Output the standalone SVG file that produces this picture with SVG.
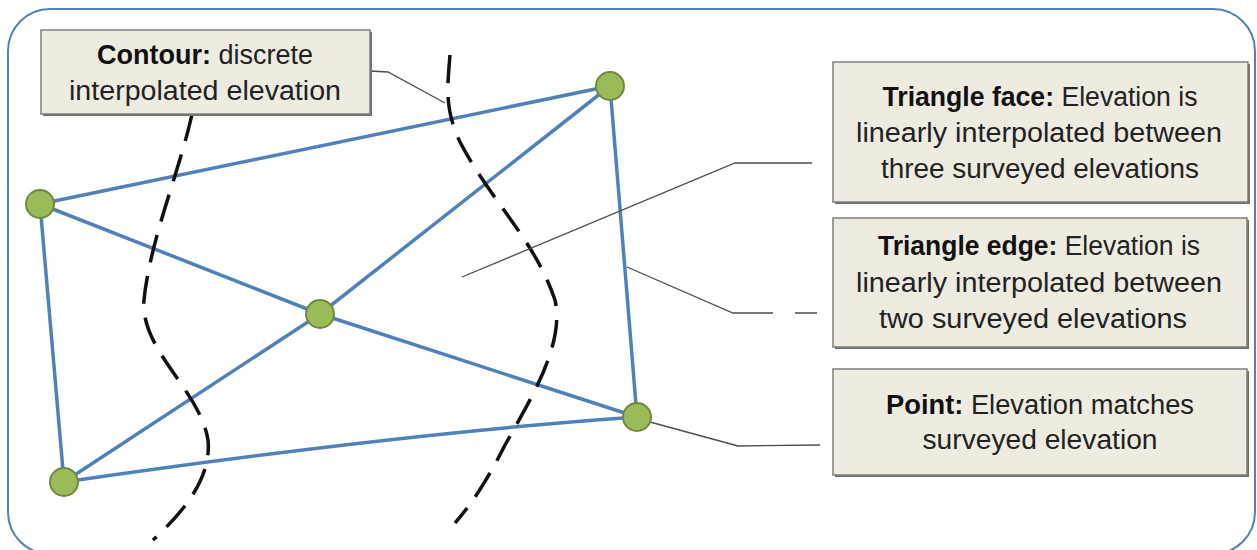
<svg xmlns="http://www.w3.org/2000/svg" width="1257" height="550" viewBox="0 0 1257 550">
<style>
.frame{fill:#ffffff;stroke:#4f81bd;stroke-width:2}
.edge{fill:none;stroke:#4f81bd;stroke-width:3.5;stroke-linecap:round}
.contour{fill:none;stroke:#111111;stroke-width:3.5;stroke-dasharray:28 14}
.leader{fill:none;stroke:#4d4d4d;stroke-width:1.3}
.node{fill:#9bbb59;stroke:#71893f;stroke-width:2}
.box{fill:#eeece1;stroke:#7f7f7f;stroke-width:1.5}
.shadow{fill:#6f6f6f}
.t{font-family:"Liberation Sans",Arial,sans-serif;font-size:27px;fill:#222222;text-anchor:middle}
.b{font-weight:bold;fill:#111111}
</style>
<rect class="frame" x="8" y="9" width="1247" height="545" rx="42" ry="42"/>

<g id="connectors">
  <g id="tin-edges">
    <path class="edge" d="M610,86 L40,204"/>
    <path class="edge" d="M40,204 L320,314"/>
    <path class="edge" d="M320,314 L637,417"/>
    <path class="edge" d="M64,482 L320,314"/>
    <path class="edge" d="M320,314 L610,86"/>
    <path class="edge" d="M40,204 L64,482"/>
    <path class="edge" d="M610,86 L637,417"/>
    <path class="edge" d="M64,482 C250,455 450,430 637,417"/>
  </g>
  <g id="contours">
    <path class="contour" d="M192,114 C180,170 150,240 144,300 C140,350 200,390 208,440 C212,480 180,515 153,540"/>
    <path class="contour" d="M450,55 C447,90 445,110 460,142 C490,200 535,240 555,300 C565,345 530,400 505,445 C490,475 475,500 455,523"/>
  </g>
  <g id="leaders">
    <path class="leader" d="M370,71 L388,72 L445,103"/>
    <path class="leader" d="M462,277 L735,163 L812,163"/>
    <path class="leader" d="M627,267 L733,313 L773,313 M795,313 L817,313"/>
    <path class="leader" d="M650,422 L738,446 L820,445"/>
  </g>
</g>

<g id="nodes">
  <circle id="node-n1" class="node" cx="610" cy="86" r="14"/>
  <circle id="node-n2" class="node" cx="40" cy="204" r="14"/>
  <circle id="node-n3" class="node" cx="320" cy="314" r="14"/>
  <circle id="node-n4" class="node" cx="637" cy="417" r="14"/>
  <circle id="node-n5" class="node" cx="64" cy="482" r="14"/>
</g>

<g id="label-contour">
  <rect class="shadow" x="43" y="32" width="329" height="84"/>
  <rect class="box" x="41" y="30" width="329" height="84"/>
  <text class="t" x="205" y="64" textLength="216" lengthAdjust="spacingAndGlyphs"><tspan class="b">Contour:</tspan> discrete</text>
  <text class="t" x="205" y="100" textLength="272" lengthAdjust="spacingAndGlyphs">interpolated elevation</text>
</g>

<g id="label-face">
  <rect class="shadow" x="835" y="64" width="415" height="140"/>
  <rect class="box" x="833" y="62" width="415" height="140"/>
  <text class="t" x="1040" y="106" textLength="315" lengthAdjust="spacingAndGlyphs"><tspan class="b">Triangle face:</tspan> Elevation is</text>
  <text class="t" x="1039" y="142" textLength="366" lengthAdjust="spacingAndGlyphs">linearly interpolated between</text>
  <text class="t" x="1040" y="178" textLength="318" lengthAdjust="spacingAndGlyphs">three surveyed elevations</text>
</g>

<g id="label-edge">
  <rect class="shadow" x="835" y="220" width="414" height="129"/>
  <rect class="box" x="833" y="218" width="414" height="129"/>
  <text class="t" x="1039" y="255" textLength="322" lengthAdjust="spacingAndGlyphs"><tspan class="b">Triangle edge:</tspan> Elevation is</text>
  <text class="t" x="1039" y="292" textLength="366" lengthAdjust="spacingAndGlyphs">linearly interpolated between</text>
  <text class="t" x="1033" y="328" textLength="308" lengthAdjust="spacingAndGlyphs">two surveyed elevations</text>
</g>

<g id="label-point">
  <rect class="shadow" x="835" y="371" width="414" height="106"/>
  <rect class="box" x="833" y="369" width="414" height="106"/>
  <text class="t" x="1040" y="414" textLength="308" lengthAdjust="spacingAndGlyphs"><tspan class="b">Point:</tspan> Elevation matches</text>
  <text class="t" x="1040" y="449" textLength="235" lengthAdjust="spacingAndGlyphs">surveyed elevation</text>
</g>
</svg>
